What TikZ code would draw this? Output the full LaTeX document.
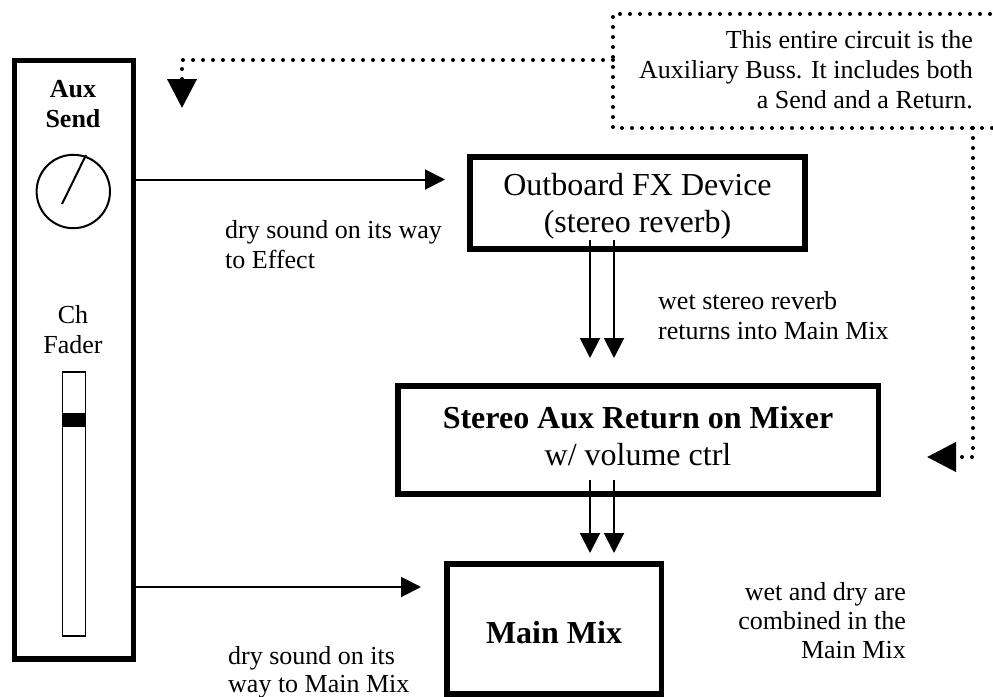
\documentclass[tikz,border=0pt]{standalone}
\usepackage{fontspec}
\setmainfont{Liberation Serif}
\usetikzlibrary{arrows.meta}
\begin{document}
\begin{tikzpicture}[x=1pt,y=-1pt,
  box/.style={draw, line width=5.2pt, inner sep=0pt, outer sep=0pt},
  thin/.style={line width=2pt},
  sig/.style={line width=2pt, -{Triangle[width=20pt,length=20pt]}},
  dotline/.style={line width=4pt, line cap=round, dash pattern=on 0pt off 10pt},
  bigtip/.style={-{Triangle[width=29pt,length=29pt]}},
  small/.style={font=\fontsize{26}{30}\selectfont, inner sep=0pt},
  big/.style={font=\fontsize{32}{37}\selectfont, inner sep=0pt}]
\useasboundingbox (0,0) rectangle (993,696);

% channel strip
\node[box, minimum width=119pt, minimum height=598.5pt] (strip) at (73.9,359.75) {};
\node[small, align=center, font=\fontsize{26}{30}\selectfont\bfseries] (auxlbl) at (73,104.5) {Aux\\Send};
\draw[thin] (73.3,191.5) circle (36.7pt);
\coordinate (knobA) at (62,204);
\coordinate (knobB) at (86,155);
\draw[thin] (knobA) -- (knobB);
\node[small, align=center] (chlbl) at (73,330) {Ch\\Fader};
\node[draw, line width=1.8pt, minimum width=23pt, minimum height=264pt, inner sep=0pt] (slot) at (74,504) {};
\fill (slot.west |- 0,412.7) rectangle (slot.east |- 0,426.7);

% boxes
\node[box, minimum width=335pt, minimum height=92pt] (fx) at (637.5,203) {};
\node[big, align=center] (fxlbl) at (637.5,206) {Outboard FX Device\\(stereo reverb)};
\node[box, minimum width=480.5pt, minimum height=108pt] (ret) at (638.25,440) {};
\node[big, align=center] (retlbl) at (638,436) {\textbf{Stereo Aux Return on Mixer}\\w/ volume ctrl};
\node[box, minimum width=214.5pt, minimum height=130pt] (mm) at (554.25,629) {};
\node[big, font=\fontsize{32}{37}\selectfont\bfseries] (mmlbl) at (554,633) {Main Mix};

% send arrows
\coordinate (sendB) at (445,179.5);
\draw[sig] (strip.east |- sendB) -- (sendB);
\coordinate (dryB) at (421,587);
\draw[sig] (strip.east |- dryB) -- (dryB);

% stereo pairs
\coordinate (fxL) at (590,240);
\coordinate (fxR) at (614,240);
\coordinate (retInL) at (590,358);
\coordinate (retInR) at (614,358);
\draw[sig] (fxL) -- (retInL);
\draw[sig] (fxR) -- (retInR);
\coordinate (retL) at (590,480);
\coordinate (retR) at (614,480);
\coordinate (mmL) at (590,553);
\coordinate (mmR) at (614,553);
\draw[sig] (retL) -- (mmL);
\draw[sig] (retR) -- (mmR);

% labels
\node[small, align=left, anchor=west] (lbl1) at (225,245) {dry sound on its way\\to Effect};
\node[small, align=left, anchor=west] (lbl2) at (658,316) {wet stereo reverb\\returns into Main Mix};
\node[small, align=right, anchor=east, font=\fontsize{26}{29}\selectfont] (lbl3) at (906,621) {wet and dry are\\combined in the\\Main Mix};
\node[small, align=left, anchor=west, font=\fontsize{26}{28}\selectfont] (lbl4) at (228,672) {dry sound on its\\way to Main Mix};

% auxiliary buss note
\node[small, align=right, anchor=east] (note) at (973,70) {This entire circuit is the\\Auxiliary Buss. It includes both\\a Send and a Return.};
\coordinate (nTL) at (613,14);
\coordinate (nBL) at (613,128);
\draw[dotline] (1000,14) -- (nTL) -- (nBL) -- (1000,128);
\coordinate (sendTip) at (182,108);
\draw[dotline, bigtip] (nTL |- 0,60) -- (182,60) -- (sendTip);
\coordinate (retTip) at (927,457);
\draw[dotline, bigtip] (973,128) -- (973,457) -- (retTip);
\end{tikzpicture}
\end{document}
